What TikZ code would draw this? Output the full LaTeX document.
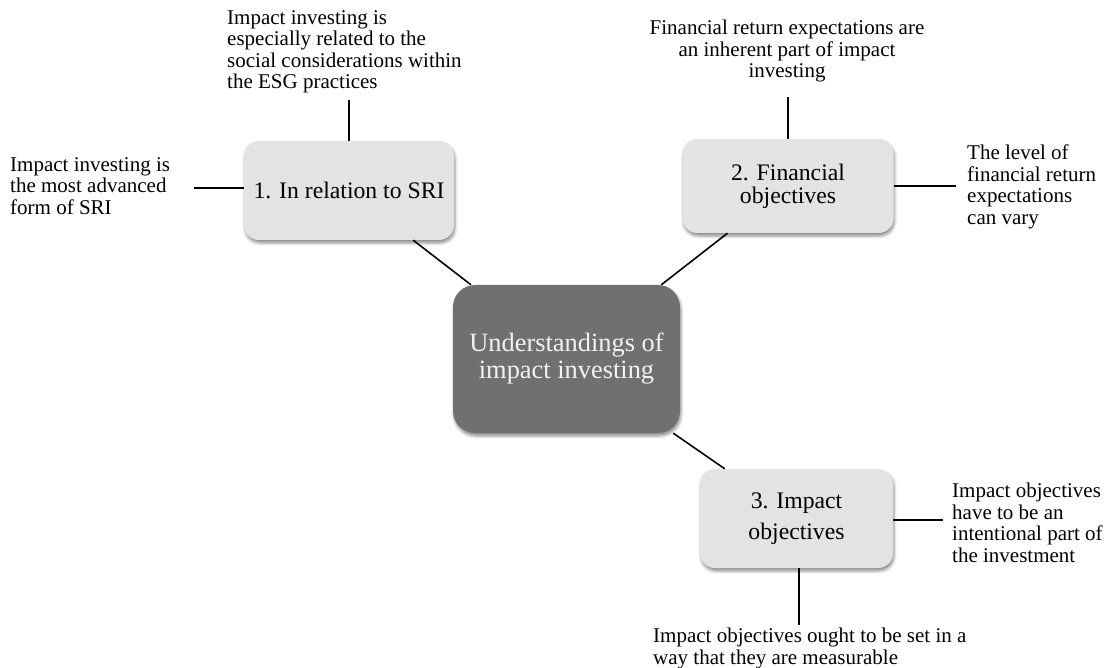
\documentclass[tikz,border=0pt]{standalone}
\usepackage{fontspec}
\setmainfont{Liberation Serif}
\usetikzlibrary{shadows.blur}
\definecolor{boxgray}{HTML}{E3E3E3}
\definecolor{darkgray}{HTML}{707070}
\definecolor{lighttext}{HTML}{F2F2F2}
\tikzset{
  leaf/.style={font=\fontsize{21}{21.5}\selectfont, inner sep=0pt, align=left, anchor=north west},
  topic/.style={fill=boxgray, rounded corners=15pt, inner sep=0pt, align=center,
    blur shadow={shadow xshift=1pt, shadow yshift=-3pt, shadow blur radius=3pt, shadow opacity=45}},
  hub/.style={fill=darkgray, rounded corners=22pt, inner sep=0pt, align=center, text=lighttext,
    font=\fontsize{26.4}{27}\selectfont,
    blur shadow={shadow xshift=1pt, shadow yshift=-3pt, shadow blur radius=3pt, shadow opacity=45}},
  link/.style={line width=1.6pt, black}
}
\begin{document}
\begin{tikzpicture}[x=1pt,y=-1pt]
\useasboundingbox (0,0) rectangle (1108,668);
% hub and topics
\node[hub, minimum width=227pt, minimum height=148pt] (c) at (566.5,359) {Understandings of\\impact investing};
\node[topic, minimum width=210pt, minimum height=99pt, font=\fontsize{23.7}{24}\selectfont] (b1) at (349,190.5) {1. In relation to SRI};
\node[topic, minimum width=211pt, minimum height=94pt, font=\fontsize{23.7}{23.3}\selectfont] (b2) at (788,186) {2. Financial\\objectives};
\node[topic, minimum width=193pt, minimum height=99pt, font=\fontsize{23.7}{31.5}\selectfont] (b3) at (796.5,518.5) {3. Impact\\objectives};
% leaf texts
\node[leaf] (t1) at (227,10) {Impact investing is\\especially related to the\\social considerations within\\the ESG practices};
\node[leaf] (l1) at (10,157) {Impact investing is\\the most advanced\\form of SRI};
\node[leaf, align=center, anchor=north] (t2) at (787,20) {Financial return expectations are\\an inherent part of impact\\investing};
\node[leaf] (r2) at (967,145) {The level of\\financial return\\expectations\\can vary};
\node[leaf] (r3) at (952,483) {Impact objectives\\have to be an\\intentional part of\\the investment};
\node[leaf] (d3) at (653,628) {Impact objectives ought to be set in a\\way that they are measurable};
% leaf link ends
\coordinate (e1) at (349,100);
\coordinate (e2) at (194,188);
\coordinate (e3) at (788,97);
\coordinate (e4) at (956,186);
\coordinate (e5) at (943,520);
\coordinate (e6) at (799,625);
% connectors
\draw[link] (b1) -- (c);
\draw[link] (b2) -- (c);
\draw[link] (b3) -- (c);
\draw[link] (e1) -- (e1 |- b1.north);
\draw[link] (e2) -- (e2 -| b1.west);
\draw[link] (e3) -- (e3 |- b2.north);
\draw[link] (e4) -- (e4 -| b2.east);
\draw[link] (e5) -- (e5 -| b3.east);
\draw[link] (e6) -- (e6 |- b3.south);
\end{tikzpicture}
\end{document}
